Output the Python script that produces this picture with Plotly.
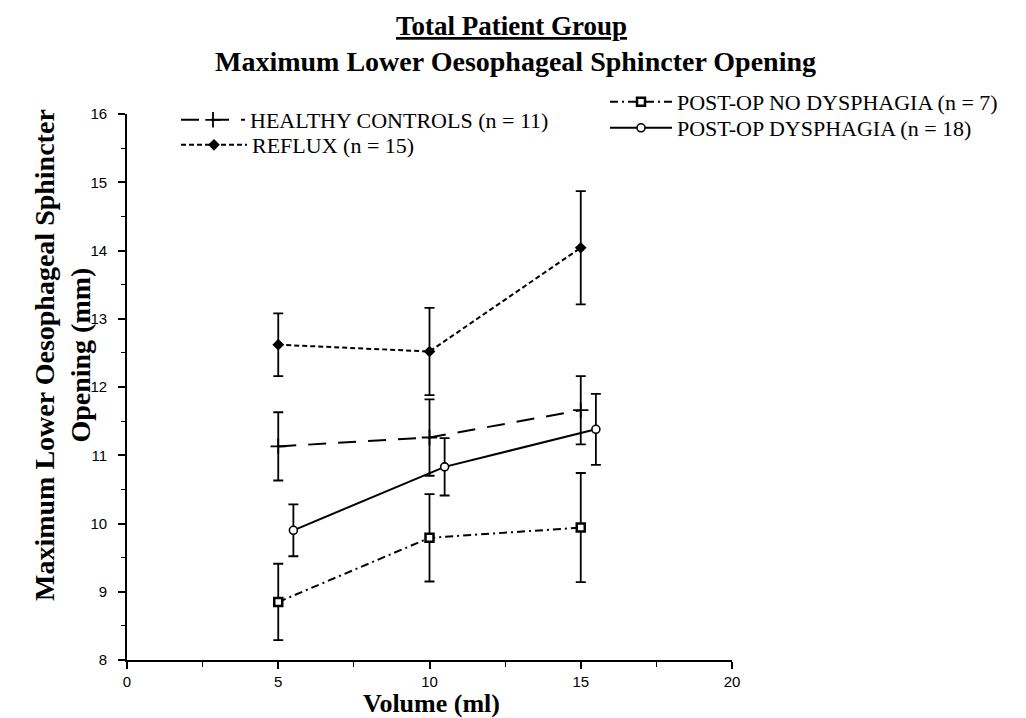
import plotly.graph_objects as go

# Data
volume = [5, 10, 15]
volume_offset = [5.5, 10.5, 15.5]

healthy = [11.13, 11.26, 11.66]
healthy_err = [0.50, 0.56, 0.50]

reflux = [12.62, 12.52, 14.04]
reflux_err = [0.46, 0.64, 0.83]

nodys = [8.85, 9.79, 9.94]
nodys_err = [0.56, 0.64, 0.80]

dys = [9.90, 10.83, 11.38]
dys_err = [0.38, 0.42, 0.52]

serif = "Liberation Serif, Times New Roman, serif"
sans = "Liberation Sans, Arial, sans-serif"

W, H = 1026, 718
ML, MR, MT, MB = 127, 294, 114, 58
PW, PH = W - ML - MR, H - MT - MB


def px_to_paper(px, py):
    return (px - ML) / PW, 1 - (py - MT) / PH


def err(vals):
    return dict(type="data", array=vals, visible=True, color="black", thickness=1.8, width=5)


fig = go.Figure()

fig.add_trace(go.Scatter(
    x=volume, y=healthy, error_y=err(healthy_err), mode="lines+markers",
    name="HEALTHY CONTROLS (n = 11)", legend="legend",
    line=dict(color="black", width=2, dash="18px,12px"),
    marker=dict(symbol="cross-thin", size=11, line=dict(color="black", width=1.8), color="black"),
))
fig.add_trace(go.Scatter(
    x=volume, y=reflux, error_y=err(reflux_err), mode="lines+markers",
    name="REFLUX (n = 15)", legend="legend2",
    line=dict(color="black", width=2, dash="5px,3px"),
    marker=dict(symbol="diamond", size=9, color="black"),
))
fig.add_trace(go.Scatter(
    x=volume, y=nodys, error_y=err(nodys_err), mode="lines+markers",
    name="POST-OP NO DYSPHAGIA (n = 7)", legend="legend3",
    line=dict(color="black", width=2, dash="8px,4px,2px,4px"),
    marker=dict(symbol="square", size=8, color="white", line=dict(color="black", width=2.5)),
))
fig.add_trace(go.Scatter(
    x=volume_offset, y=dys, error_y=err(dys_err), mode="lines+markers",
    name="POST-OP DYSPHAGIA (n = 18)", legend="legend4",
    line=dict(color="black", width=2),
    marker=dict(symbol="circle", size=8, color="white", line=dict(color="black", width=1.6)),
))

annots = []
for text, px, py, size, angle in [
    ("<b><u>Total Patient Group</u></b>", 511, 26, 27, 0),
    ("<b>Maximum Lower Oesophageal Sphincter Opening</b>", 515, 62, 28, 0),
    ("<b>Volume (ml)</b>", 431, 703, 26, 0),
    ("<b>Maximum Lower Oesophageal Sphincter<br>Opening (mm)</b>", 62, 355, 28, -90),
]:
    x, y = px_to_paper(px, py)
    annots.append(dict(text=text, x=x, y=y, xref="paper", yref="paper", showarrow=False,
                       textangle=angle, xanchor="center", yanchor="middle",
                       font=dict(family=serif, size=size, color="black")))


def leg(px, py, iw):
    return dict(x=px / W, y=1 - py / H, xref="container", yref="container",
                xanchor="left", yanchor="middle",
                font=dict(family=serif, size=22, color="black"),
                bgcolor="rgba(0,0,0,0)", borderwidth=0, itemwidth=iw)


fig.update_layout(
    width=W, height=H,
    paper_bgcolor="white", plot_bgcolor="white",
    margin=dict(l=ML, r=MR, t=MT, b=MB, autoexpand=False),
    showlegend=True,
    legend=leg(176, 120, 64),
    legend2=leg(176, 145, 66),
    legend3=leg(605, 102, 62),
    legend4=leg(605, 128, 62),
    xaxis=dict(range=[0, 20], tickmode="array", tickvals=[0, 5, 10, 15, 20],
               showgrid=False, zeroline=False, showline=True, linecolor="black", linewidth=1.8,
               ticks="outside", ticklen=7, tickwidth=1.5, tickcolor="black",
               minor=dict(dtick=2.5, ticks="outside", ticklen=5, tickwidth=1.2, tickcolor="black"),
               tickfont=dict(family=sans, size=15, color="black")),
    yaxis=dict(range=[8, 16], dtick=1,
               showgrid=False, zeroline=False, showline=True, linecolor="black", linewidth=1.8,
               ticks="outside", ticklen=7, tickwidth=1.5, tickcolor="black", ticklabelstandoff=8,
               minor=dict(dtick=0.5, ticks="outside", ticklen=4, tickwidth=1.2, tickcolor="black"),
               tickfont=dict(family=sans, size=15, color="black")),
    annotations=annots,
)

fig.write_html("out.html")
